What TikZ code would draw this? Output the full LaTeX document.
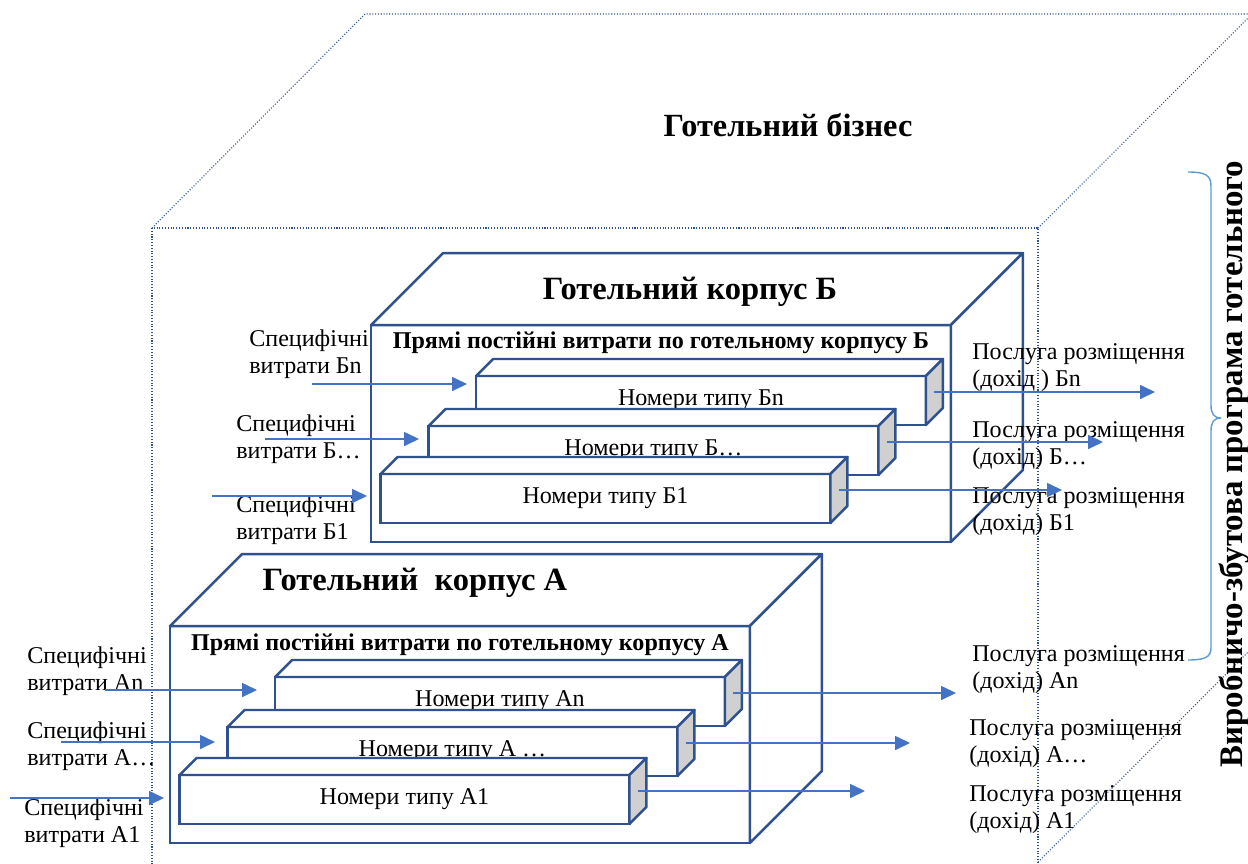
\documentclass[tikz,border=0pt]{standalone}
\usepackage{fontspec}
\setmainfont{Liberation Serif}
\usetikzlibrary{arrows.meta,calc}

\definecolor{cubeblue}{RGB}{47,82,143}
\definecolor{arrowblue}{RGB}{68,114,196}
\definecolor{bracecol}{RGB}{91,155,213}
\definecolor{sidegray}{RGB}{208,208,208}

\newcommand{\txt}{\fontsize{13.7}{15.3}\selectfont}

\begin{document}
\begin{tikzpicture}[x=0.02cm, y=-0.02cm,
    frame/.style={draw=cubeblue, densely dotted, line width=0.6pt},
    corpus/.style={rectangle, draw=cubeblue, line width=1.4pt, fill=white, inner sep=0pt, outer sep=0pt, minimum width=11.6cm, minimum height=4.34cm},
    face/.style={draw=cubeblue, line width=1.4pt, fill=white, line join=round},
    side/.style={face, fill=sidegray},
    room/.style={rectangle, draw=cubeblue, line width=1.3pt, fill=white, inner sep=0pt, outer sep=0pt, minimum width=9cm, minimum height=0.98cm, font=\txt},
    title/.style={font=\fontsize{18.5}{22}\selectfont\bfseries},
    costs/.style={font=\fontsize{13.7}{15.3}\selectfont\bfseries},
    label/.style={align=left, anchor=west, inner sep=0pt, font=\txt},
    arrow/.style={-{Triangle[length=8.5pt,width=8pt]}, draw=arrowblue, line width=0.7pt}
]
\clip (0,0) rectangle (1248,863);

% outer cube of the business
\draw[frame] (152,870) -- (152,228) -- (1038,228) -- (1038,870);
\draw[frame] (152,228) -- (365,14) -- (1260,14);
\draw[frame] (1038,228) -- (1252,14);
\draw[frame] (1038,862) -- (1252,648);

\node[font=\fontsize{18.4}{22}\selectfont\bfseries] (biz) at (788,125) {Готельний бізнес};

% corpus B
\node[corpus] (kb) at (661,433.5) {};
\draw[face] (kb.north west) -- ++(72,-72) -- ([shift={(72,-72)}]kb.north east) -- (kb.north east) -- cycle;
\draw[face] (kb.north east) -- ++(72,-72) -- ([shift={(72,-72)}]kb.south east) -- (kb.south east) -- cycle;
\node[title] (tb) at (690,292) {Готельний корпус Б};
\node[costs] (pb) at (661,343) {Прямі постійні витрати по готельному корпусу Б};

\node[room] (bn) at (701,400.5) {Номери типу Бn};
\draw[face] (bn.north west) -- ++(17,-17) -- ([shift={(17,-17)}]bn.north east) -- (bn.north east) -- cycle;
\draw[side] (bn.north east) -- ++(17,-17) -- ([shift={(17,-17)}]bn.south east) -- (bn.south east) -- cycle;
\node[room] (bd) at (653.5,450.5) {Номери типу Б…};
\draw[face] (bd.north west) -- ++(17,-17) -- ([shift={(17,-17)}]bd.north east) -- (bd.north east) -- cycle;
\draw[side] (bd.north east) -- ++(17,-17) -- ([shift={(17,-17)}]bd.south east) -- (bd.south east) -- cycle;
\node[room] (b1) at (605.5,498.5) {Номери типу Б1};
\draw[face] (b1.north west) -- ++(17,-17) -- ([shift={(17,-17)}]b1.north east) -- (b1.north east) -- cycle;
\draw[side] (b1.north east) -- ++(17,-17) -- ([shift={(17,-17)}]b1.south east) -- (b1.south east) -- cycle;

% corpus A
\node[corpus] (ka) at (460,734.5) {};
\draw[face] (ka.north west) -- ++(72,-72) -- ([shift={(72,-72)}]ka.north east) -- (ka.north east) -- cycle;
\draw[face] (ka.north east) -- ++(72,-72) -- ([shift={(72,-72)}]ka.south east) -- (ka.south east) -- cycle;
\node[title] (ta) at (415,583) {Готельний\ \ корпус А};
\node[costs] (pa) at (460,645) {Прямі постійні витрати по готельному корпусу А};

\node[room] (an) at (500,701.5) {Номери типу Аn};
\draw[face] (an.north west) -- ++(17,-17) -- ([shift={(17,-17)}]an.north east) -- (an.north east) -- cycle;
\draw[side] (an.north east) -- ++(17,-17) -- ([shift={(17,-17)}]an.south east) -- (an.south east) -- cycle;
\node[room] (ad) at (452.5,751.5) {Номери типу А …};
\draw[face] (ad.north west) -- ++(17,-17) -- ([shift={(17,-17)}]ad.north east) -- (ad.north east) -- cycle;
\draw[side] (ad.north east) -- ++(17,-17) -- ([shift={(17,-17)}]ad.south east) -- (ad.south east) -- cycle;
\node[room] (a1) at (404.5,799.5) {Номери типу А1};
\draw[face] (a1.north west) -- ++(17,-17) -- ([shift={(17,-17)}]a1.north east) -- (a1.north east) -- cycle;
\draw[side] (a1.north east) -- ++(17,-17) -- ([shift={(17,-17)}]a1.south east) -- (a1.south east) -- cycle;

% cost labels
\node[label] (lbn) at (249,354) {Специфічні\\витрати Бn};
\node[label] (lbd) at (236,439) {Специфічні\\витрати Б…};
\node[label] (lb1) at (236,520) {Специфічні\\витрати Б1};
\node[label] (lan) at (27,671) {Специфічні\\витрати Аn};
\node[label] (lad) at (27,746) {Специфічні\\витрати А…};
\node[label] (la1) at (24,823) {Специфічні\\витрати А1};

% service labels
\node[label] (rbn) at (972,368) {Послуга розміщення\\(дохід ) Бn};
\node[label] (rbd) at (972,446) {Послуга розміщення\\(дохід) Б…};
\node[label] (rb1) at (972,512) {Послуга розміщення\\(дохід) Б1};
\node[label] (ran) at (972,670) {Послуга розміщення\\(дохід) Аn};
\node[label] (rad) at (969,744) {Послуга розміщення\\(дохід) А…};
\node[label] (ra1) at (969,810) {Послуга розміщення\\(дохід) А1};

% incoming arrows
\coordinate (sbn) at (312,384);  \coordinate (ebn) at (467,384);
\coordinate (sbd) at (265,439);  \coordinate (ebd) at (419,439);
\coordinate (sb1) at (212,496);  \coordinate (eb1) at (367,496);
\coordinate (san) at (105,690);  \coordinate (ean) at (257,690);
\coordinate (sad) at (61,742);   \coordinate (ead) at (215,742);
\coordinate (sa1) at (10,798);   \coordinate (ea1) at (164,798);
\draw[arrow] (sbn) -- (ebn);
\draw[arrow] (sbd) -- (ebd);
\draw[arrow] (sb1) -- (eb1);
\draw[arrow] (san) -- (ean);
\draw[arrow] (sad) -- (ead);
\draw[arrow] (sa1) -- (ea1);

% outgoing arrows
\coordinate (obn) at (1155,392);
\coordinate (obd) at (1103,442);
\coordinate (ob1) at (1062,490);
\coordinate (oan) at (956,693);
\coordinate (oad) at (910,743);
\coordinate (oa1) at (865,791);
\draw[arrow] ($(bn.east)+(8.5,-8.5)$) -- (obn);
\draw[arrow] ($(bd.east)+(8.5,-8.5)$) -- (obd);
\draw[arrow] ($(b1.east)+(8.5,-8.5)$) -- (ob1);
\draw[arrow] ($(an.east)+(8.5,-8.5)$) -- (oan);
\draw[arrow] ($(ad.east)+(8.5,-8.5)$) -- (oad);
\draw[arrow] ($(a1.east)+(8.5,-8.5)$) -- (oa1);

% brace and programme
\draw[bracecol, line width=0.8pt] (1188,172) .. controls (1205,172) and (1211,175) .. (1211,186) -- (1211,405)
  .. controls (1211,414) and (1214,418) .. (1221,418) .. controls (1214,418) and (1211,422) .. (1211,431)
  -- (1211,648) .. controls (1211,657) and (1205,660) .. (1188,660);
\node[rotate=90, font=\fontsize{18.7}{22}\selectfont\bfseries] (prog) at (1234,464) {Виробничо-збутова програма готельного};
\end{tikzpicture}
\end{document}
